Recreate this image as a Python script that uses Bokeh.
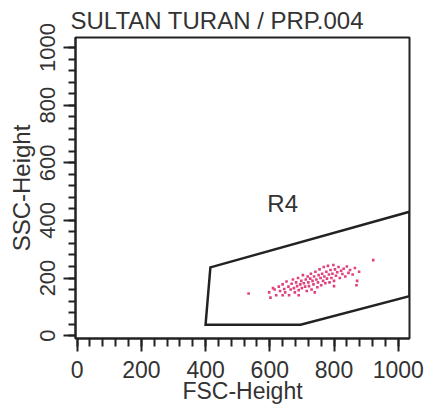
from bokeh.plotting import figure
from bokeh.models import Label, FixedTicker, ColumnDataSource
from bokeh.embed import file_html
from bokeh.resources import INLINE

# ---- data ----
title_text = "SULTAN TURAN / PRP.004"
x_label = "FSC-Height"
y_label = "SSC-Height"
major_ticks = [0, 200, 400, 600, 800, 1000]
minor_ticks = list(range(0, 1041, 40))

gate_name = "R4"
gate_x = [400, 696, 1035, 1035, 415]
gate_y = [38, 38, 137, 430, 237]

ev_x = [534, 598, 602, 615, 620, 628, 632, 640, 645, 648, 652, 658, 660, 665, 668,
        672, 675, 678, 682, 685, 688, 690, 695, 698, 700, 703, 706, 710, 712, 715,
        718, 720, 722, 726, 728, 730, 733, 736, 738, 742, 745, 748, 750, 752, 755,
        758, 760, 763, 766, 768, 770, 773, 776, 778, 781, 784, 786, 789, 792, 795,
        798, 800, 803, 806, 810, 814, 818, 822, 826, 830, 835, 840, 845, 850, 858,
        865, 872, 878, 922, 640, 610, 690, 740, 800, 870]
ev_y = [146, 150, 132, 160, 140, 170, 155, 178, 162, 150, 188, 170, 140, 160, 180,
        195, 165, 150, 185, 172, 200, 158, 178, 190, 165, 210, 182, 170, 195, 155,
        205, 185, 172, 198, 215, 160, 190, 178, 205, 222, 195, 168, 185, 210, 230,
        200, 175, 215, 190, 238, 205, 182, 222, 198, 242, 212, 185, 228, 200, 215,
        245, 190, 230, 208, 220, 238, 200, 225, 214, 232, 205, 240, 218, 228, 212,
        235, 190, 222, 262, 140, 165, 140, 150, 172, 175]

FONT = "Liberation Sans"
TXT = "#333333"

p = figure(width=424, height=408, output_backend="svg", toolbar_location=None,
           x_range=(-5, 1035), y_range=(-10, 1035),
           min_border_left=75, min_border_right=15, min_border_top=33, min_border_bottom=70)
p.background_fill_color = "white"
p.border_fill_color = "white"
p.outline_line_color = "#222222"
p.outline_line_width = 2
p.grid.visible = False

p.title.text = title_text
p.title.text_font = FONT
p.title.text_font_size = "24px"
p.title.text_font_style = "normal"
p.title.text_color = TXT
p.title.align = "left"
p.title.standoff = 8
p.title.offset = -5

for ax in (p.xaxis[0], p.yaxis[0]):
    ax.ticker = FixedTicker(ticks=major_ticks, minor_ticks=minor_ticks)
    ax.axis_line_color = "#222222"
    ax.axis_line_width = 2
    ax.major_tick_line_color = "#222222"
    ax.major_tick_line_width = 2
    ax.minor_tick_line_color = "#222222"
    ax.minor_tick_line_width = 2
    ax.major_tick_in = 0
    ax.minor_tick_in = 0
    ax.major_label_text_font = FONT
    ax.major_label_text_color = TXT
    ax.axis_label_text_font = FONT
    ax.axis_label_text_font_style = "normal"
    ax.axis_label_text_color = TXT

p.xaxis.axis_label = x_label
p.yaxis.axis_label = y_label
p.xaxis.major_tick_out = 13
p.xaxis.minor_tick_out = 8
p.xaxis.major_label_text_font_size = "23px"
p.xaxis.major_label_standoff = 9
p.xaxis.axis_label_text_font_size = "23px"
p.xaxis.axis_label_standoff = -3
p.yaxis.major_tick_out = 12
p.yaxis.minor_tick_out = 7
p.yaxis.major_label_text_font_size = "22px"
p.yaxis.major_label_orientation = "vertical"
p.yaxis.major_label_standoff = 8
p.yaxis.axis_label_text_font_size = "24px"
p.yaxis.axis_label_standoff = 3

src = ColumnDataSource(dict(x=ev_x, y=ev_y))
p.scatter("x", "y", source=src, marker="square", size=2.6, color="#e0407c", line_width=0)

p.patch(gate_x, gate_y, fill_color=None, line_color="#222222", line_width=2.5,
        line_join="miter")

p.add_layout(Label(x=640, y=459, text=gate_name, text_align="center",
                   text_baseline="alphabetic", text_font=FONT,
                   text_font_size="24px", text_color=TXT))

open("out.html", "w").write(file_html(p, INLINE))
